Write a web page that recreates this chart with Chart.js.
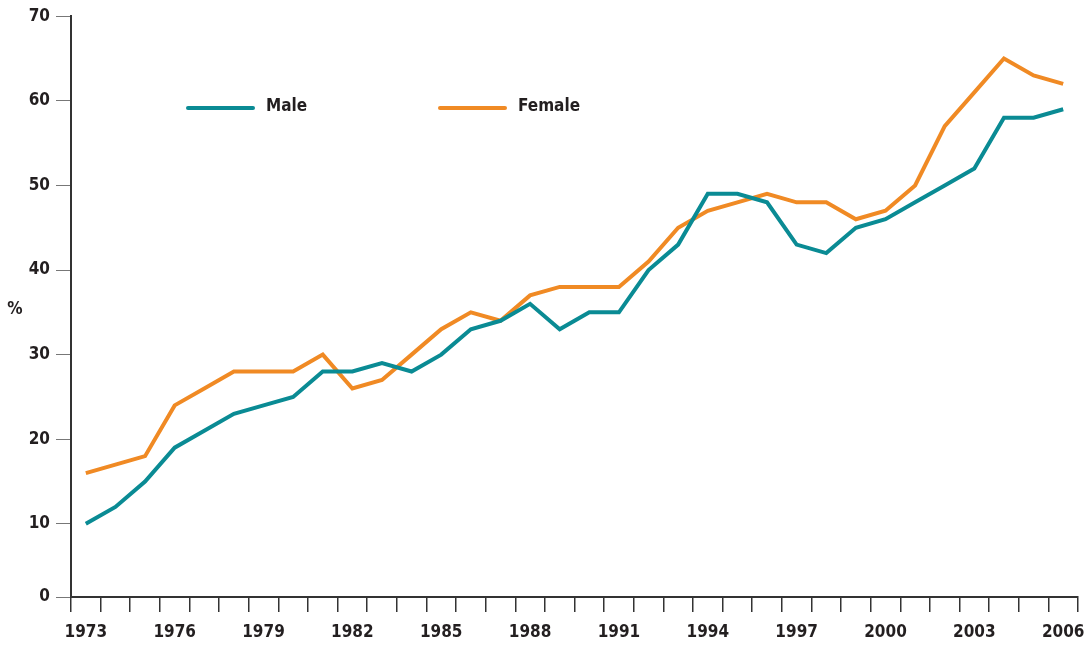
<!DOCTYPE html>
<html>
<head>
<meta charset="utf-8">
<script src="https://cdn.jsdelivr.net/npm/chart.js@4/dist/chart.umd.min.js"></script>
<style>
  html, body { margin: 0; padding: 0; background: #fff; }
  canvas { display: block; }
</style>
</head>
<body>
<canvas id="chart" width="1091" height="645"></canvas>
<script>
// data
const years = ['1973','1974','1975','1976','1977','1978','1979','1980','1981','1982',
    '1983','1984','1985','1986','1987','1988','1989','1990','1991','1992',
    '1993','1994','1995','1996','1997','1998','1999','2000','2001','2002',
    '2003','2004','2005','2006'];
const male = [10, 12, 15, 19, 21, 23, 24, 25, 28, 28,
    29, 28, 30, 33, 34, 36, 33, 35, 35, 40,
    43, 49, 49, 48, 43, 42, 45, 46, 48, 50,
    52, 58, 58, 59];
const female = [16, 17, 18, 24, 26, 28, 28, 28, 30, 26,
    27, 30, 33, 35, 34, 37, 38, 38, 38, 41,
    45, 47, 48, 49, 48, 48, 46, 47, 50, 57,
    61, 65, 63, 62];
const yTicks = [0, 10, 20, 30, 40, 50, 60, 70];
const yAxisName = '%';

const FONT = "'Liberation Sans Narrow', 'DejaVu Sans Condensed', 'Liberation Sans', sans-serif";
const TEXT = '#231f20';
const Y_MIN = 1.35;   // the x axis sits a little above the true zero

// legend drawn inside the plot, plus the horizontal "%" name
const overlay = {
    id: 'overlay',
    afterDraw(chart) {
        const ctx = chart.ctx;
        const area = chart.chartArea;
        ctx.save();
        ctx.font = 'bold 17px ' + FONT;
        ctx.fillStyle = TEXT;
        ctx.textBaseline = 'middle';
        ctx.textAlign = 'center';
        ctx.fillText(yAxisName, 15, (area.top + area.bottom) / 2 + 3);

        const spots = [188, 440];
        chart.data.datasets.forEach((ds, i) => {
            const x = spots[i], y = 108;
            ctx.strokeStyle = ds.borderColor;
            ctx.lineWidth = 4;
            ctx.lineCap = 'round';
            ctx.beginPath();
            ctx.moveTo(x, y);
            ctx.lineTo(x + 65, y);
            ctx.stroke();
            ctx.textAlign = 'left';
            ctx.fillText(ds.label, x + 78, y - 1);
        });
        ctx.restore();
    }
};

new Chart(document.getElementById('chart'), {
    type: 'line',
    data: {
        labels: years,
        datasets: [{
            label: 'Male',
            data: male,
            borderColor: '#0a8b94',
            borderWidth: 4,
            pointRadius: 0,
            tension: 0
        }, {
            label: 'Female',
            data: female,
            borderColor: '#f08a24',
            borderWidth: 4,
            pointRadius: 0,
            tension: 0
        }]
    },
    options: {
        responsive: false,
        animation: false,
        layout: { padding: { top: 16, right: 13, left: 0, bottom: 0 } },
        plugins: {
            legend: { display: false },
            tooltip: { enabled: false }
        },
        scales: {
            x: {
                offset: true,
                grid: {
                    offset: true,
                    drawOnChartArea: false,
                    drawTicks: true,
                    tickLength: 15,
                    color: '#333',
                    lineWidth: 1.5
                },
                border: { color: '#333', width: 2 },
                ticks: {
                    autoSkip: false,
                    maxRotation: 0,
                    padding: 10,
                    color: TEXT,
                    font: { family: FONT, size: 17, weight: 'bold' },
                    callback: (v, i) => (i % 3 === 0 ? years[i] : '')
                },
                afterFit: s => {
                    s.height = 48;
                    s.paddingLeft = 0;
                    s.paddingRight = 0;
                }
            },
            y: {
                min: Y_MIN,
                max: 70,
                afterBuildTicks: s => {
                    s.ticks = yTicks.map(v => ({ value: Math.max(v, Y_MIN) }));
                },
                grid: {
                    drawOnChartArea: false,
                    drawTicks: true,
                    tickLength: 15,
                    color: '#777',
                    lineWidth: 1
                },
                border: { color: '#333', width: 2 },
                ticks: {
                    padding: 6,
                    color: TEXT,
                    font: { family: FONT, size: 17, weight: 'bold' },
                    callback: (v, i) => String(yTicks[i])
                },
                afterFit: s => { s.width = 71; }
            }
        }
    },
    plugins: [overlay]
});
</script>
</body>
</html>
